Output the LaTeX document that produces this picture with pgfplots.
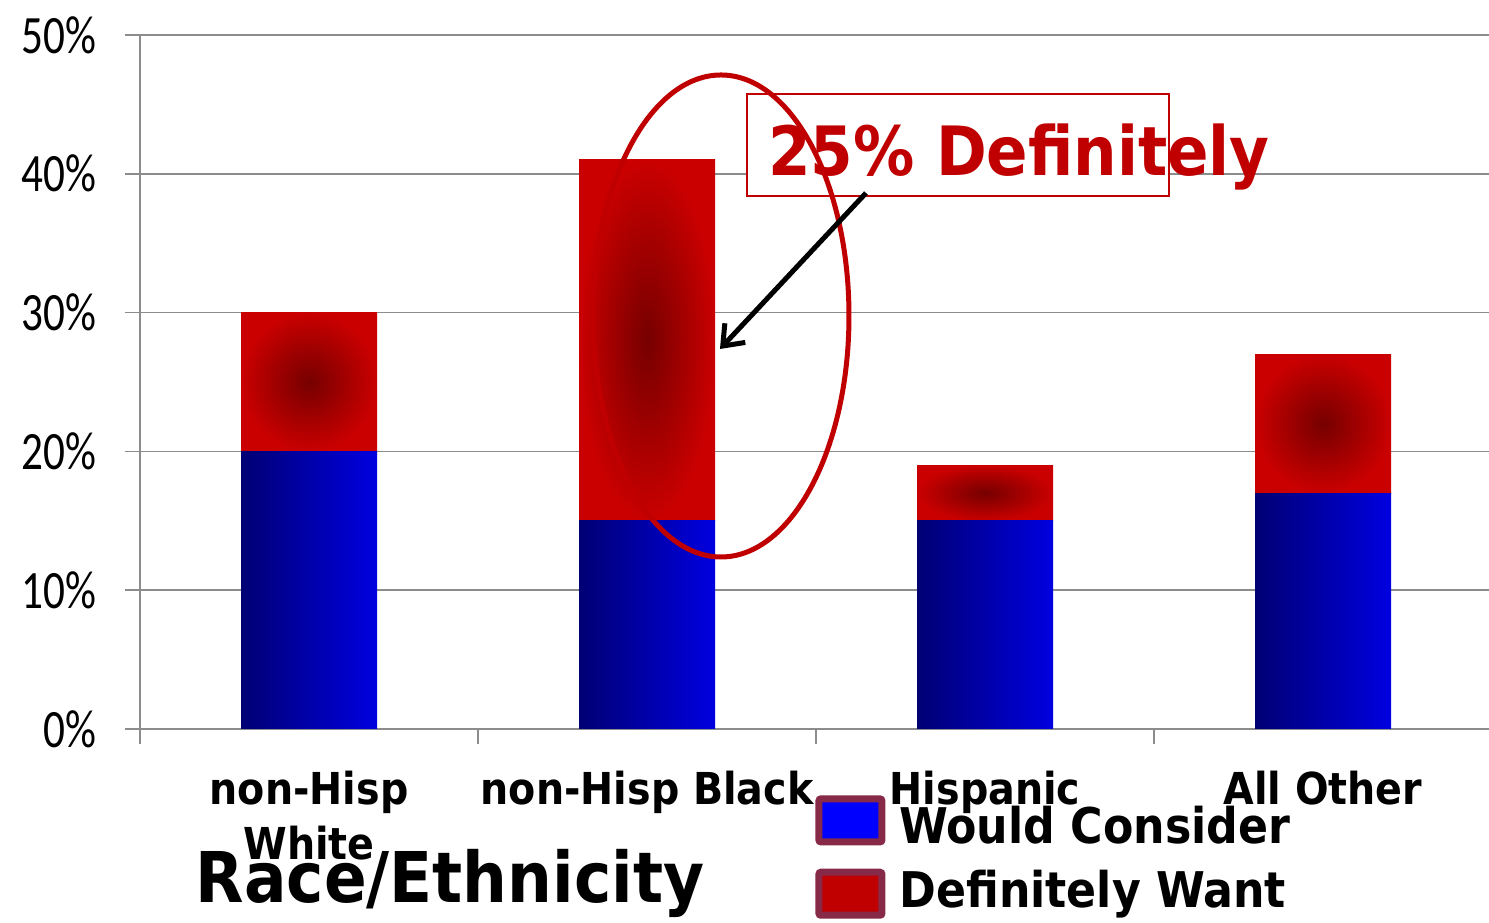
\documentclass[border=0pt]{standalone}
\usepackage{fontspec}
\setmainfont{DejaVu Sans Condensed}
\newfontfamily\tickfont[FakeStretch=0.8]{Carlito}
\usepackage{pgfplots}
\usepackage{pgfplotstable}
\pgfplotsset{compat=1.18}
\usetikzlibrary{arrows.meta}

\definecolor{gridgray}{HTML}{8C8C8C}
\definecolor{navyblue}{RGB}{0,0,116}
\definecolor{brightblue}{RGB}{0,0,224}
\definecolor{barred}{RGB}{202,0,0}
\definecolor{darkcore}{RGB}{118,0,0}
\definecolor{annred}{HTML}{C00000}
\definecolor{legborder}{HTML}{862A48}

% share of respondents by group (percent)
\pgfplotstableread{
idx consider definitely
0   20       10
1   15       26
2   15       4
3   17       10
}\racedata

% geometry shared by the frame axis and the per-group bar axes
\pgfplotsset{
  chartframe/.style={
    at={(70bp,97bp)}, anchor=south west,
    scale only axis, width=674.5bp, height=347bp,
    xmin=-0.5, xmax=3.491, ymin=0, ymax=50,
    ybar stacked, bar width=68bp,
  },
}

\begin{document}
\begin{tikzpicture}
\useasboundingbox (0,0) rectangle (744.5bp,461.5bp);
% frame: grid, ticks, labels, legend
\begin{axis}[
  chartframe,
  axis x line*=bottom, axis y line*=left,
  axis line style={gridgray, line width=0.8bp},
  tick align=outside,
  major tick length=7.5bp,
  ytick={0,10,...,50},
  yticklabel={\pgfmathprintnumber{\tick}\%},
  /pgf/number format/assume math mode=true,
  yticklabel style={font=\tickfont\fontsize{27bp}{30bp}\selectfont, inner sep=0pt, xshift=-14bp},
  y tick style={gridgray, line width=0.8bp},
  ymajorgrids, grid style={gridgray, line width=0.8bp},
  xtick={0,1,2,3},
  xticklabels={{non-Hisp\\White},{non-Hisp Black},{Hispanic},{All Other}},
  xticklabel style={align=center, anchor=north, inner sep=0pt, yshift=-13.5bp,
    font=\bfseries\fontsize{22bp}{27.5bp}\selectfont},
  x tick style={draw=none},
  extra x ticks={-0.5,0.5,1.5,2.5},
  extra x tick labels={},
  extra x tick style={x tick style={draw=gridgray, line width=0.8bp}},
  xlabel={Race/Ethnicity},
  every axis x label/.style={at={(rel axis cs:0.2298,-0.2493)}, anchor=base,
    font=\bfseries\fontsize{35bp}{40bp}\selectfont, inner sep=0pt},
  legend style={draw=none, fill=none, at={(rel axis cs:0.5004,-0.0951)},
    anchor=north west, inner sep=0pt, font=\bfseries\fontsize{24.6bp}{30bp}\selectfont,
    row sep=8bp, cells={anchor=west},
    /tikz/every odd column/.append style={column sep=5bp}},
]
\addlegendimage{legend image code/.code={\draw[draw=legborder, line width=3.5bp, fill=blue, rounded corners=1bp] (1.75bp,-8bp) rectangle (33.25bp,13.5bp);}}
\addlegendentry{Would Consider}
\addlegendimage{legend image code/.code={\draw[draw=legborder, line width=3.5bp, fill=annred, rounded corners=1bp] (1.75bp,-12.5bp) rectangle (33.25bp,9bp);}}
\addlegendentry{Definitely Want}
\end{axis}

% one axis per group so that each bar gets its own shading
\foreach \k in {0,1,2,3} {
  \begin{axis}[chartframe, hide axis]
    \addplot[draw=none, left color=navyblue, right color=brightblue]
      table[x=idx, y=consider, restrict x to domain=\k:\k]{\racedata};
    \addplot[draw=none, inner color=darkcore, outer color=barred]
      table[x=idx, y=definitely, restrict x to domain=\k:\k]{\racedata};
  \end{axis}
}

% callout on the non-Hispanic Black bar
\begin{scope}[x=0.5bp, y=-0.5bp, yshift=461.5bp]
  \draw[annred, line width=0.75bp, fill=white] (747,94) rectangle (1169,196);
  \node[annred, anchor=base west, inner sep=0pt,
        font=\bfseries\fontsize{34bp}{40bp}\selectfont] at (768,176) {25\% Definitely};
  \draw[annred, line width=2.5bp] (721,316) ellipse [x radius=64bp, y radius=120.5bp];
  \draw[line width=2.5bp, -{Straight Barb[length=9bp, width=14bp, line width=2.5bp]}]
    (866,193) -- (720,349);
\end{scope}
\end{tikzpicture}
\end{document}
